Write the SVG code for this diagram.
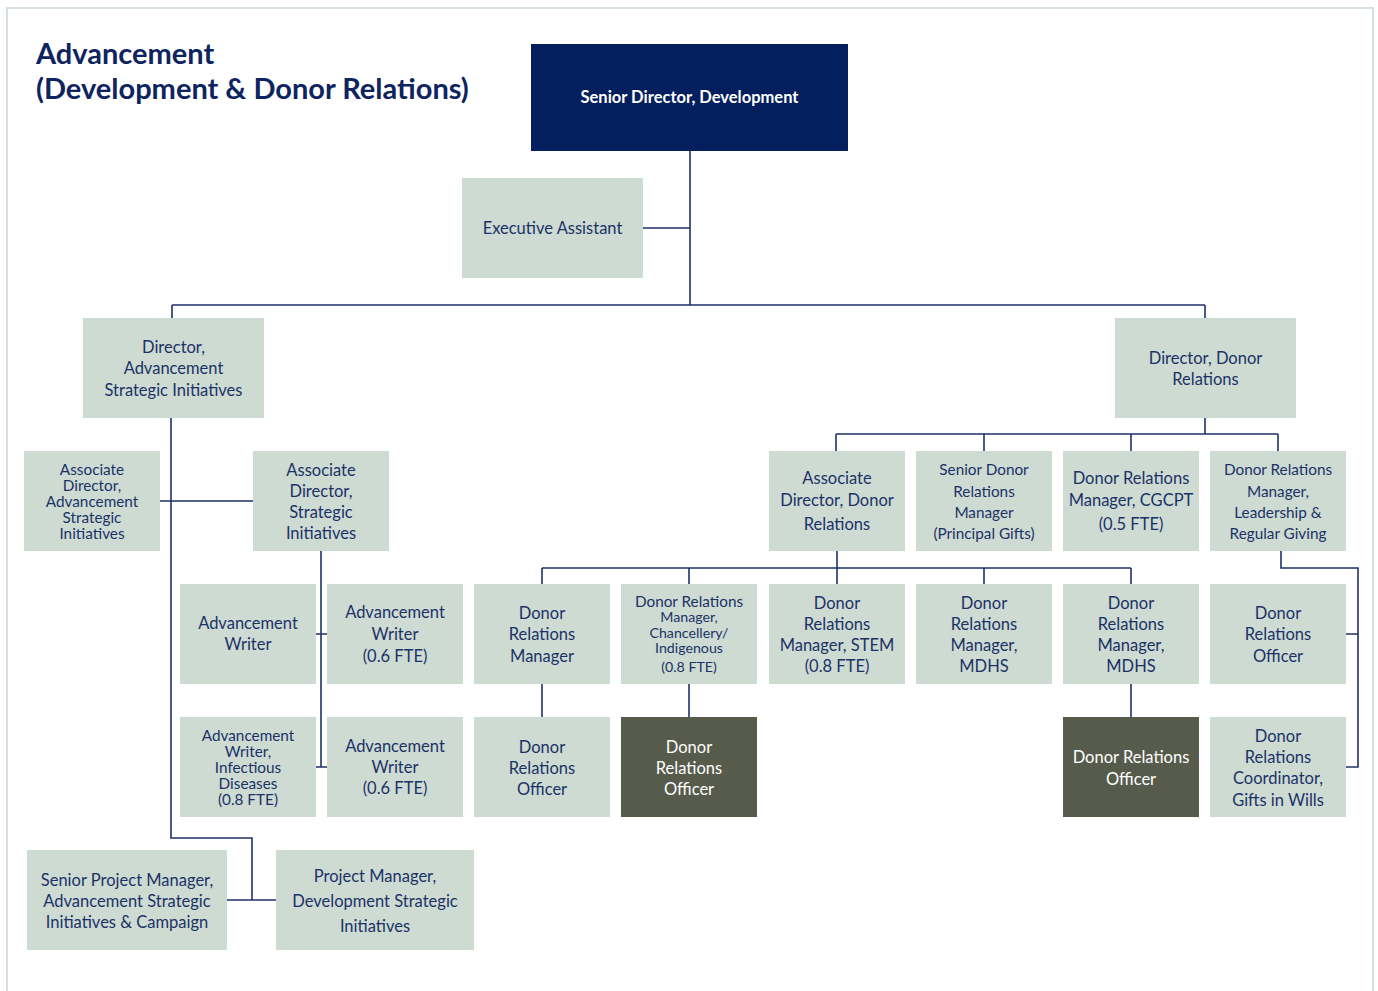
<svg xmlns="http://www.w3.org/2000/svg" width="1378" height="991" viewBox="0 0 1378 991">
<style>
.bg{fill:#ffffff}
.frame{fill:none;stroke:#d5e2db;stroke-width:2}
.title{font-family:Lato,"Noto Sans",sans-serif;font-weight:bold;font-size:29px;fill:#0e2461}
.box{fill:#cddbd3}
.dark{fill:#575b4c}
.top{fill:#041f5e}
.t{font-family:Lato,"Noto Sans",sans-serif;font-size:16.5px;fill:#1c3266;text-anchor:middle;dominant-baseline:central}
.s{font-size:15.3px}
.xs{font-size:14.2px}
.w{fill:#ffffff}
.tb{font-weight:bold;font-size:16.5px}
.c{fill:none;stroke:#1f3168;stroke-width:1.6}
</style>
<rect class="bg" x="0" y="0" width="1378" height="991"/>
<path class="frame" d="M7 1000 V8 H1373 V1000"/>
<text class="title" x="36" y="64">Advancement</text>
<text class="title" x="36" y="99">(Development &amp; Donor Relations)</text>

<g id="connectors">
<path class="c" d="M690 151 V305 M643 228 H690 M172 305 H1205 M172 305 V318 M1205 305 V318"/>
<path class="c" d="M171 418 V838 H252 V900 M227 900 H276 M160 501 H253"/>
<path class="c" d="M321 551 V767 H316 M316 634 H327 M321 767 H327"/>
<path class="c" d="M1205 418 V434 M836 434 H1278 M836 434 V451 M984 434 V451 M1131 434 V451 M1278 434 V451"/>
<path class="c" d="M837 551 V568 M542 568 H1131 M542 568 V584 M689 568 V584 M837 568 V584 M984 568 V584 M1131 568 V584"/>
<path class="c" d="M542 684 V717 M689 684 V717 M1131 684 V717"/>
<path class="c" d="M1281 551 V568 H1358 V767 H1346 M1346 634 H1358"/>
</g>

<g id="n-senior-director"><rect class="top" x="531" y="44" width="317" height="107"/><text class="t w tb" x="689.5" y="97">Senior Director, Development</text></g>
<g id="n-exec-assistant"><rect class="box" x="462" y="178" width="181" height="100"/><text class="t" x="552.5" y="228">Executive Assistant</text></g>

<g id="n-dir-asi"><rect class="box" x="83" y="318" width="181" height="100"/><text class="t" x="173.5" y="347">Director,</text><text class="t" x="173.5" y="368">Advancement</text><text class="t" x="173.5" y="390">Strategic Initiatives</text></g>
<g id="n-dir-dr"><rect class="box" x="1115" y="318" width="181" height="100"/><text class="t" x="1205.5" y="358">Director, Donor</text><text class="t" x="1205.5" y="379">Relations</text></g>

<g id="n-ad-asi"><rect class="box" x="24" y="451" width="136" height="100"/><text class="t s" x="92" y="469">Associate</text><text class="t s" x="92" y="485">Director,</text><text class="t s" x="92" y="501">Advancement</text><text class="t s" x="92" y="517">Strategic</text><text class="t s" x="92" y="533">Initiatives</text></g>
<g id="n-ad-si"><rect class="box" x="253" y="451" width="136" height="100"/><text class="t" x="321" y="470">Associate</text><text class="t" x="321" y="491">Director,</text><text class="t" x="321" y="512">Strategic</text><text class="t" x="321" y="533">Initiatives</text></g>

<g id="n-writer1"><rect class="box" x="180" y="584" width="136" height="100"/><text class="t" x="248" y="623">Advancement</text><text class="t" x="248" y="644">Writer</text></g>
<g id="n-writer2"><rect class="box" x="327" y="584" width="136" height="100"/><text class="t" x="395" y="612">Advancement</text><text class="t" x="395" y="634">Writer</text><text class="t" x="395" y="656">(0.6 FTE)</text></g>
<g id="n-writer3"><rect class="box" x="180" y="717" width="136" height="100"/><text class="t s" x="248" y="735">Advancement</text><text class="t s" x="248" y="751">Writer,</text><text class="t s" x="248" y="767">Infectious</text><text class="t s" x="248" y="783">Diseases</text><text class="t s" x="248" y="799">(0.8 FTE)</text></g>
<g id="n-writer4"><rect class="box" x="327" y="717" width="136" height="100"/><text class="t" x="395" y="746">Advancement</text><text class="t" x="395" y="767">Writer</text><text class="t" x="395" y="788">(0.6 FTE)</text></g>

<g id="n-spm"><rect class="box" x="27" y="850" width="200" height="100"/><text class="t" x="127" y="880">Senior Project Manager,</text><text class="t" x="127" y="901">Advancement Strategic</text><text class="t" x="127" y="922">Initiatives &amp; Campaign</text></g>
<g id="n-pm"><rect class="box" x="276" y="850" width="198" height="100"/><text class="t" x="375" y="876">Project Manager,</text><text class="t" x="375" y="901">Development Strategic</text><text class="t" x="375" y="926">Initiatives</text></g>

<g id="n-ad-dr"><rect class="box" x="769" y="451" width="136" height="100"/><text class="t" x="837" y="478">Associate</text><text class="t" x="837" y="500">Director, Donor</text><text class="t" x="837" y="524">Relations</text></g>
<g id="n-sdrm"><rect class="box" x="916" y="451" width="136" height="100"/><text class="t s" x="984" y="469">Senior Donor</text><text class="t s" x="984" y="491">Relations</text><text class="t s" x="984" y="512">Manager</text><text class="t s" x="984" y="533">(Principal Gifts)</text></g>
<g id="n-drm-cgcpt"><rect class="box" x="1063" y="451" width="136" height="100"/><text class="t" x="1131" y="478">Donor Relations</text><text class="t" x="1131" y="500">Manager, CGCPT</text><text class="t" x="1131" y="524">(0.5 FTE)</text></g>
<g id="n-drm-lrg"><rect class="box" x="1210" y="451" width="136" height="100"/><text class="t s" x="1278" y="469">Donor Relations</text><text class="t s" x="1278" y="491">Manager,</text><text class="t s" x="1278" y="512">Leadership &amp;</text><text class="t s" x="1278" y="533">Regular Giving</text></g>

<g id="n-drm"><rect class="box" x="474" y="584" width="136" height="100"/><text class="t" x="542" y="613">Donor</text><text class="t" x="542" y="634">Relations</text><text class="t" x="542" y="656">Manager</text></g>
<g id="n-drm-ci"><rect class="box" x="621" y="584" width="136" height="100"/><text class="t s" x="689" y="601">Donor Relations</text><text class="t xs" x="689" y="616.5">Manager,</text><text class="t xs" x="689" y="632">Chancellery/</text><text class="t xs" x="689" y="647.5">Indigenous</text><text class="t xs" x="689" y="666">(0.8 FTE)</text></g>
<g id="n-drm-stem"><rect class="box" x="769" y="584" width="136" height="100"/><text class="t" x="837" y="603">Donor</text><text class="t" x="837" y="624">Relations</text><text class="t" x="837" y="645">Manager, STEM</text><text class="t" x="837" y="666">(0.8 FTE)</text></g>
<g id="n-drm-mdhs1"><rect class="box" x="916" y="584" width="136" height="100"/><text class="t" x="984" y="603">Donor</text><text class="t" x="984" y="624">Relations</text><text class="t" x="984" y="645">Manager,</text><text class="t" x="984" y="666">MDHS</text></g>
<g id="n-drm-mdhs2"><rect class="box" x="1063" y="584" width="136" height="100"/><text class="t" x="1131" y="603">Donor</text><text class="t" x="1131" y="624">Relations</text><text class="t" x="1131" y="645">Manager,</text><text class="t" x="1131" y="666">MDHS</text></g>
<g id="n-dro-r"><rect class="box" x="1210" y="584" width="136" height="100"/><text class="t" x="1278" y="613">Donor</text><text class="t" x="1278" y="634">Relations</text><text class="t" x="1278" y="656">Officer</text></g>

<g id="n-dro1"><rect class="box" x="474" y="717" width="136" height="100"/><text class="t" x="542" y="747">Donor</text><text class="t" x="542" y="768">Relations</text><text class="t" x="542" y="789">Officer</text></g>
<g id="n-dro2"><rect class="dark" x="621" y="717" width="136" height="100"/><text class="t w" x="689" y="747">Donor</text><text class="t w" x="689" y="768">Relations</text><text class="t w" x="689" y="789">Officer</text></g>
<g id="n-dro3"><rect class="dark" x="1063" y="717" width="136" height="100"/><text class="t w" x="1131" y="757">Donor Relations</text><text class="t w" x="1131" y="779">Officer</text></g>
<g id="n-drc-giw"><rect class="box" x="1210" y="717" width="136" height="100"/><text class="t" x="1278" y="736">Donor</text><text class="t" x="1278" y="757">Relations</text><text class="t" x="1278" y="778">Coordinator,</text><text class="t" x="1278" y="800">Gifts in Wills</text></g>
</svg>
